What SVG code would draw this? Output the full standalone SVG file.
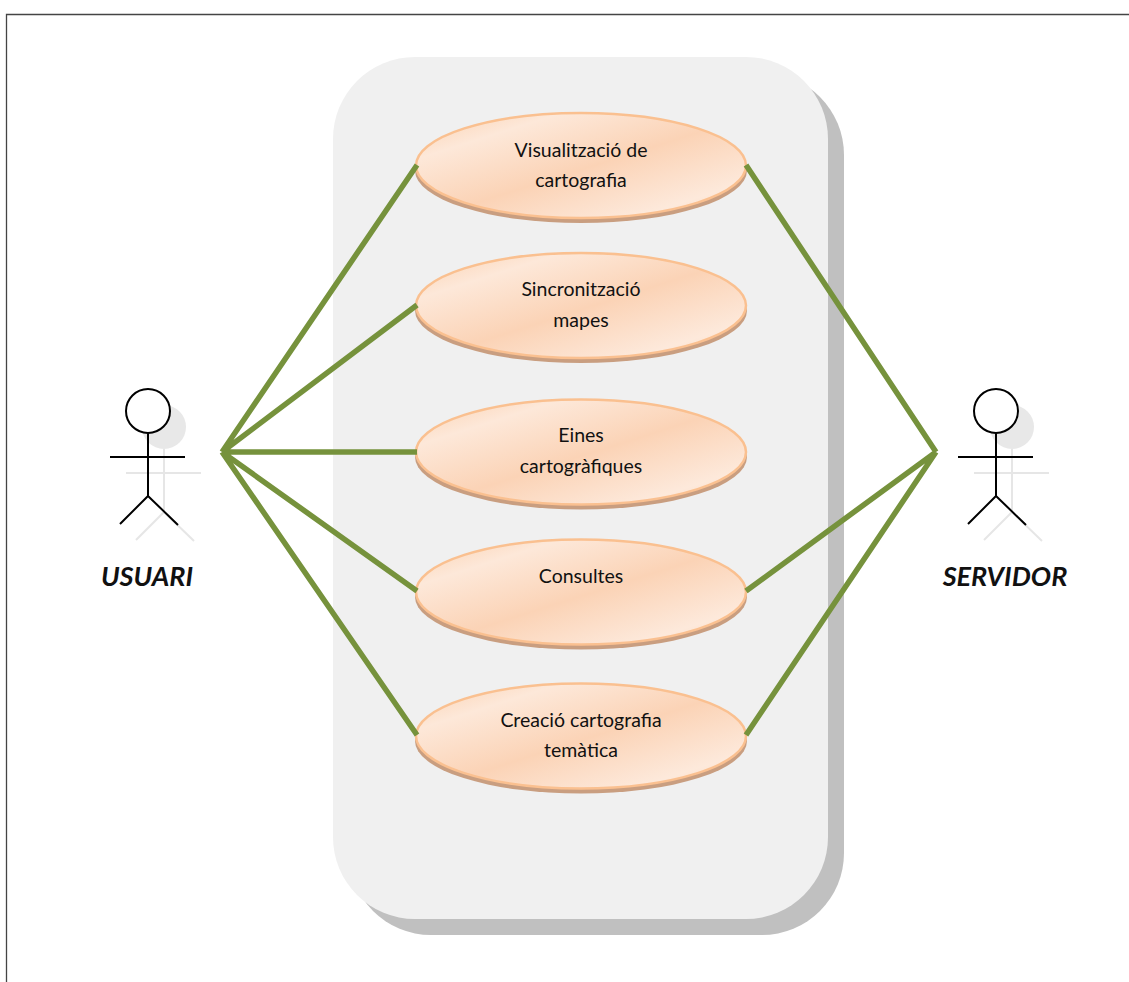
<svg xmlns="http://www.w3.org/2000/svg" width="1129" height="982" viewBox="0 0 1129 982">
<defs>
<linearGradient id="fill" x1="0" y1="0" x2="1" y2="1">
<stop offset="0" stop-color="#fbcfac"/><stop offset="0.22" stop-color="#fde8d9"/><stop offset="0.52" stop-color="#fbd3b6"/><stop offset="0.83" stop-color="#fde9db"/><stop offset="1" stop-color="#fbd5b8"/>
</linearGradient>
<g id="uc"><ellipse cx="0" cy="5" rx="166" ry="52.500" fill="#c99e80"/><ellipse cx="0" cy="0" rx="165" ry="52.500" fill="url(#fill)" stroke="#fac090" stroke-width="2.500"/></g>
<g id="actor" fill="none" stroke-width="2"><circle cx="0" cy="-39" r="22" fill="#fff"/><path d="M0 -17V46M-38 7H37M0 46L-28 74M0 46L30 75"/></g>
<g id="actorShadow" fill="none" stroke-width="2" stroke="#e6e6e6"><path d="M0 -17V46M-38 7H37M0 46L-28 74M0 46L30 75"/></g>
</defs>
<style>
text{font-family:"Lato","Carlito","Noto Sans",sans-serif;font-size:19.500px;fill:#111;text-anchor:middle}
.a{font-size:27px;font-weight:700;font-style:italic}
.c{stroke:#76923c;stroke-width:5.500;fill:none}
</style>
<rect width="1129" height="982" fill="#fff"/>
<path id="frame" d="M6.500 982V14.500H1129" fill="none" stroke="#444" stroke-width="1.300"/>
<g id="boundary"><rect x="349" y="73" width="495" height="862" rx="82" fill="#c0c0c0"/><rect x="333" y="57" width="495" height="862" rx="82" fill="#f0f0f0"/></g>
<g id="uc1"><use href="#uc" x="581" y="165.500"/><text x="581" y="157">Visualització de</text><text x="581" y="187">cartografia</text></g>
<g id="uc2"><use href="#uc" x="581" y="305.500"/><text x="581" y="296">Sincronització</text><text x="581" y="327">mapes</text></g>
<g id="uc3"><use href="#uc" x="581" y="452"/><text x="581" y="442">Eines</text><text x="581" y="473">cartogràfiques</text></g>
<g id="uc4"><use href="#uc" x="581" y="592"/><text x="581" y="583">Consultes</text></g>
<g id="uc5"><use href="#uc" x="581" y="736"/><text x="581" y="727">Creació cartografia</text><text x="581" y="757">temàtica</text></g>
<g id="connectors">
<path class="c" d="M417 165L222 452M417 305L222 452M417 452H222M417 591L222 452M417 735L222 452"/>
<path class="c" d="M746 165L936 452M746 591L936 452M746 735L936 452"/>
</g>
<g id="usuari"><use href="#actorShadow" x="164" y="466"/><circle cx="164" cy="427" r="22" fill="#e8e8e8"/><use href="#actor" x="148" y="450" stroke="#000"/><text class="a" x="147" y="586">USUARI</text></g>
<g id="servidor"><use href="#actorShadow" x="1012" y="466"/><circle cx="1012" cy="427" r="22" fill="#e8e8e8"/><use href="#actor" x="996" y="450" stroke="#000"/><text class="a" x="1005" y="586">SERVIDOR</text></g>
</svg>
